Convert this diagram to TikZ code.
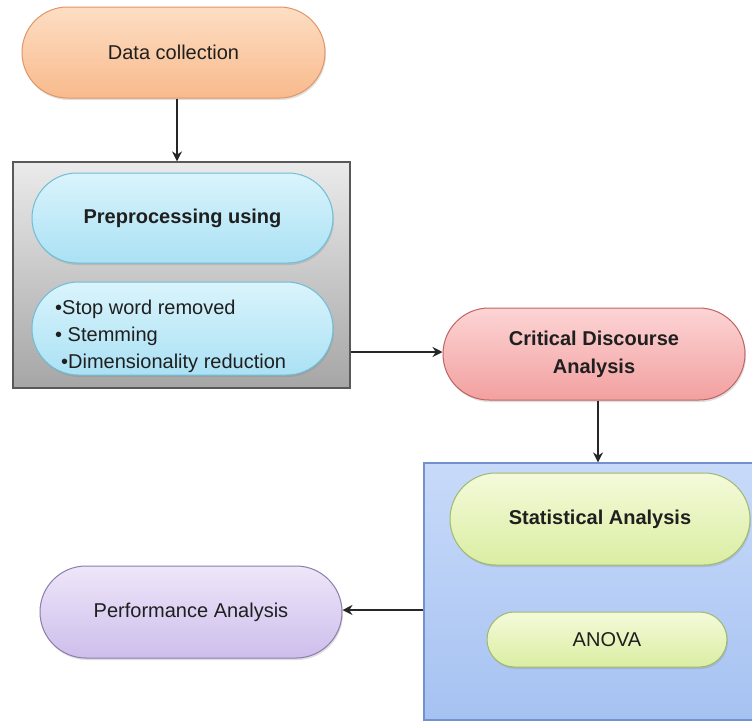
\documentclass[tikz,border=0pt]{standalone}
\usepackage{fontspec}
\setmainfont{Liberation Sans}
\usetikzlibrary{arrows.meta,shadows,shapes.misc}
\begin{document}
\begin{tikzpicture}[x=1pt,y=-1pt,
  pill/.style={rounded rectangle, draw, line width=1pt, inner sep=0pt, align=center, text=black!88, drop shadow={shadow xshift=1pt,shadow yshift=-2pt,opacity=0.25}},
  panel/.style={draw, line width=1.2pt, inner sep=0pt},
  conn/.style={draw=black!85, line width=2pt, -{Stealth[length=10pt,width=10pt]}},
  lbl/.style={font=\fontsize{20}{28}\selectfont},
  blbl/.style={font=\fontsize{20}{28}\selectfont\bfseries}]
\useasboundingbox (0,0) rectangle (752,721);
\fill[white] (0,0) rectangle (752,721);
% panels
\node[panel, draw=black!65, top color=black!8, bottom color=black!35, minimum width=337pt, minimum height=226pt] (gray) at (181.5,275) {};
\node[panel, draw={rgb,255:red,115;green,145;blue,205}, top color={rgb,255:red,200;green,218;blue,249}, bottom color={rgb,255:red,166;green,194;blue,242}, minimum width=330pt, minimum height=257pt] (blue) at (589,591.5) {};
% pills
\node[pill, lbl, draw={rgb,255:red,226;green,150;blue,100}, top color={rgb,255:red,253;green,222;blue,196}, bottom color={rgb,255:red,248;green,186;blue,140}, minimum width=303pt, minimum height=91pt] (dc) at (173.5,52.5) {Data collection};
\node[pill, blbl, draw={rgb,255:red,110;green,190;blue,215}, top color={rgb,255:red,218;green,244;blue,252}, bottom color={rgb,255:red,170;green,225;blue,244}, minimum width=301pt, minimum height=90pt] (pre) at (182.5,218) {Preprocessing using};
\node[pill, lbl, draw={rgb,255:red,110;green,190;blue,215}, top color={rgb,255:red,218;green,244;blue,252}, bottom color={rgb,255:red,170;green,225;blue,244}, minimum width=301pt, minimum height=93pt] (steps) at (182.5,328.5) {};
\node[anchor=west, align=left, inner sep=0pt, text=black!88, font=\fontsize{20}{27}\selectfont] (stepstext) at (55,336) {•Stop word removed\\• Stemming\\\hspace{6pt}•Dimensionality reduction};
\node[pill, blbl, draw={rgb,255:red,190;green,100;blue,100}, top color={rgb,255:red,252;green,212;blue,212}, bottom color={rgb,255:red,243;green,160;blue,160}, minimum width=302pt, minimum height=92pt] (crit) at (594,354) {Critical Discourse\\Analysis};
\node[pill, blbl, draw={rgb,255:red,160;green,185;blue,110}, top color={rgb,255:red,244;green,250;blue,218}, bottom color={rgb,255:red,218;green,238;blue,162}, minimum width=300pt, minimum height=92pt] (stat) at (600,519) {Statistical Analysis};
\node[pill, lbl, draw={rgb,255:red,160;green,185;blue,110}, top color={rgb,255:red,244;green,250;blue,218}, bottom color={rgb,255:red,218;green,238;blue,162}, minimum width=240pt, minimum height=55pt] (anova) at (607,639.5) {ANOVA};
\node[pill, lbl, draw={rgb,255:red,140;green,125;blue,170}, top color={rgb,255:red,238;green,230;blue,249}, bottom color={rgb,255:red,205;green,190;blue,236}, minimum width=302pt, minimum height=92pt] (perf) at (191,612) {Performance Analysis};
% connectors
\draw[conn] (dc.south -| 177,0) -- (177,0 |- gray.north);
\draw[conn] (gray.east |- 0,352) -- (crit.west |- 0,352);
\draw[conn] (crit.south -| 598,0) -- (598,0 |- blue.north);
\draw[conn] (blue.west |- 0,610) -- (perf.east |- 0,610);
\end{tikzpicture}
\end{document}
